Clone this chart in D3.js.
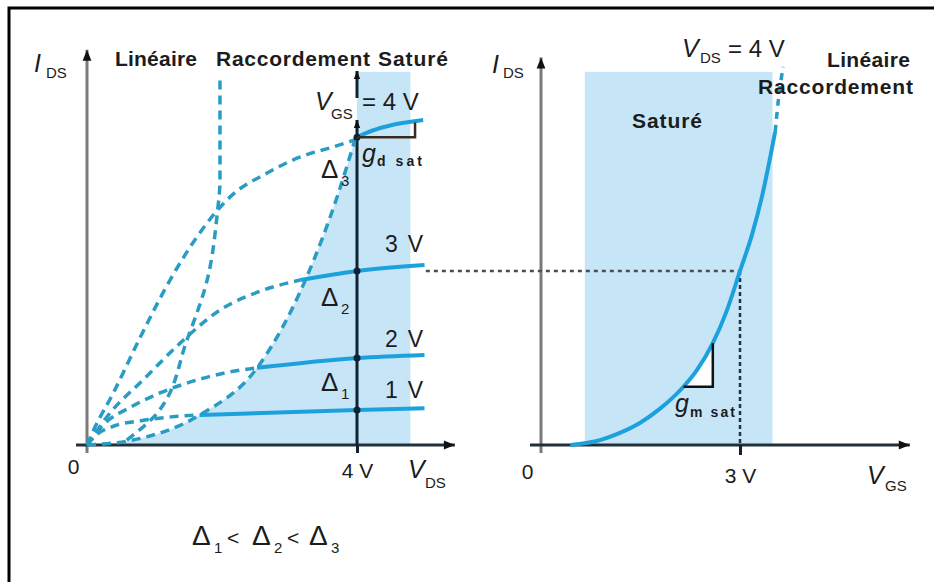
<!DOCTYPE html>
<html>
<head>
<meta charset="utf-8">
<script src="https://cdn.jsdelivr.net/npm/d3@7"></script>
<style>
  body { margin: 0; background: #fff; }
  svg { display: block; }
  text { font-family: "Liberation Sans", Arial, sans-serif; fill: #1c1c1c; }
</style>
</head>
<body>
<svg id="chart" width="934" height="582"></svg>
<script>
// ---- Output characteristics I_DS(V_DS), one curve per V_GS ----
const vgsLabels = ["1 V", "2 V", "3 V"];

// ohmic (linear) part, dashed
const vdsLin1 = [0, 0.15, 0.4, 0.8, 1.25, 1.67];
const idsLin1 = [0, 0.28, 0.5, 0.64, 0.74, 0.79];
const vdsLin2 = [0, 0.25, 0.65, 1.08, 1.5, 2.05, 2.52];
const idsLin2 = [0, 0.55, 1.0, 1.37, 1.64, 1.9, 2.03];
const vdsLin3 = [0, 0.34, 0.83, 1.38, 1.97, 2.57, 3.16];
const idsLin3 = [0, 0.84, 1.71, 2.68, 3.55, 4.05, 4.34];
const vdsLin4 = [0, 0.1, 0.39, 0.79, 1.23, 1.67, 2.12, 2.67, 3.16, 3.64, 3.97];
const idsLin4 = [0, 0.4, 1.37, 2.84, 4.34, 5.58, 6.53, 7.16, 7.58, 7.84, 8.03];

// saturated part, solid
const vdsSat1 = [1.67, 4, 5.0];
const idsSat1 = [0.79, 0.92, 0.97];
const vdsSat2 = [2.52, 4, 5.0];
const idsSat2 = [2.03, 2.29, 2.37];
const vdsSat3 = [3.16, 4, 5.0];
const idsSat3 = [4.34, 4.58, 4.74];
const vdsSat4 = [3.97, 4, 4.98];
const idsSat4 = [8.03, 8.1, 8.55];

// boundary between linear and saturated regions
const vdsLocus = [0, 0.68, 1.67, 2.52, 3.25, 3.7, 3.97];
const idsLocus = [0, 0.13, 0.79, 2.03, 4.4, 6.5, 8.03];

// "Raccordement" boundary
const vdsJoin = [0.59, 1.04, 1.48, 1.78, 1.93, 1.97, 1.97];
const idsJoin = [0.13, 0.84, 2.76, 4.34, 6.1, 6.97, 9.6];

// ---- Transfer characteristic I_DS(V_GS) at V_DS = 4 V ----
const vgsTransfer = [0.44, 0.89, 1.19, 1.49, 1.79, 2.13, 2.35, 2.59, 2.8, 3.0, 3.18, 3.33, 3.53];
const idsTransfer = [0, 0.13, 0.32, 0.58, 0.95, 1.5, 1.97, 2.68, 3.53, 4.58, 5.53, 6.53, 8.24];
const vgsTransferTop = [3.53, 3.58, 3.65];
const idsTransferTop = [8.24, 9.1, 9.95];

// operating point used for the projection between the two graphs
const vdsOp = 4, vgsOp = 3, idsOp = 4.58;

// ---- scales ----
const xL = d3.scaleLinear().domain([0, 4]).range([87, 357]);
const xR = d3.scaleLinear().domain([0, 3]).range([541, 740]);
const y = d3.scaleLinear().domain([0, 10]).range([445, 65]);

const C_FILL = "#c6e6f7", C_SOLID = "#1ca1dd", C_DASH = "#2a9cc4", C_DARK = "#0f2233";

const svg = d3.select("#chart");
const defs = svg.append("defs");
defs.append("marker").attr("id", "arrow")
  .attr("viewBox", "0 0 10 10").attr("refX", 10).attr("refY", 5)
  .attr("markerUnits", "userSpaceOnUse").attr("markerWidth", 16).attr("markerHeight", 11)
  .attr("orient", "auto")
  .append("path").attr("d", "M0,1 L10,5 L0,9 Z").attr("fill", "#111");
defs.append("marker").attr("id", "arrowSmall")
  .attr("viewBox", "0 0 10 10").attr("refX", 10).attr("refY", 5)
  .attr("markerUnits", "userSpaceOnUse").attr("markerWidth", 11).attr("markerHeight", 8)
  .attr("orient", "auto")
  .append("path").attr("d", "M0,1 L10,5 L0,9 Z").attr("fill", "#111");

const zip = (xs, ys) => xs.map((v, i) => [v, ys[i]]);
const lineL = d3.line().x(d => xL(d[0])).y(d => y(d[1])).curve(d3.curveMonotoneX);
const lineLy = d3.line().x(d => xL(d[0])).y(d => y(d[1])).curve(d3.curveMonotoneY);
const lineR = d3.line().x(d => xR(d[0])).y(d => y(d[1])).curve(d3.curveMonotoneX);

// frame
svg.append("path").attr("d", "M9,582 L9,8 L934,8")
  .attr("fill", "none").attr("stroke", "#000").attr("stroke-width", 3);

// ---- shaded saturation regions ----
const locusPath = lineL(zip(vdsLocus, idsLocus));
svg.append("path")
  .attr("d", locusPath + `L${xL(4)},${y(8.1)}L${xL(4)},${y(0)}Z`)
  .attr("fill", C_FILL);
svg.append("rect")
  .attr("x", xL(4)).attr("width", xL(4.79) - xL(4))
  .attr("y", y(9.82)).attr("height", y(0) - y(9.82))
  .attr("fill", C_FILL);
svg.append("rect")
  .attr("x", xR(0.66)).attr("width", xR(3.49) - xR(0.66))
  .attr("y", y(9.82)).attr("height", y(0) - y(9.82))
  .attr("fill", C_FILL);

// ---- axes ----
// vertical axes (grey) with arrow heads
svg.append("line").attr("x1", xL(0)).attr("x2", xL(0)).attr("y1", y(0) + 8).attr("y2", y(10.4))
  .attr("stroke", "#7a7a7a").attr("stroke-width", 3).attr("marker-end", "url(#arrow)");
svg.append("line").attr("x1", xR(0)).attr("x2", xR(0)).attr("y1", y(0) + 8).attr("y2", y(10.2))
  .attr("stroke", "#7a7a7a").attr("stroke-width", 3).attr("marker-end", "url(#arrow)");
// horizontal axes (dark) with arrow heads
svg.append("line").attr("x1", xL(0) - 11).attr("x2", xL(5.45)).attr("y1", y(0)).attr("y2", y(0))
  .attr("stroke", "#22303a").attr("stroke-width", 3).attr("marker-end", "url(#arrow)");
svg.append("line").attr("x1", xR(0) - 11).attr("x2", xR(5.56)).attr("y1", y(0)).attr("y2", y(0))
  .attr("stroke", "#22303a").attr("stroke-width", 3).attr("marker-end", "url(#arrow)");

function styleAxis(g, labelY) {
  g.select(".domain").remove();
  g.selectAll(".tick line").attr("stroke", C_DARK).attr("stroke-width", 3);
  g.selectAll(".tick text").attr("font-size", 21).attr("fill", "#1c1c1c")
    .attr("font-family", "Liberation Sans, Arial, sans-serif")
    .attr("dy", null).attr("y", labelY);
  g.selectAll(".tick").filter(d => d === 0).select("line").remove();
  g.selectAll(".tick").filter(d => d === 0).select("text").attr("dx", -14).attr("y", labelY - 4);
}
const axL = svg.append("g").attr("transform", `translate(0,${y(0)})`)
  .call(d3.axisBottom(xL).tickValues([0, 4]).tickSize(8).tickFormat(d => d === 0 ? "0" : d + " V"));
styleAxis(axL, 33);
const axR = svg.append("g").attr("transform", `translate(0,${y(0)})`)
  .call(d3.axisBottom(xR).tickValues([0, 3]).tickSize(10).tickFormat(d => d === 0 ? "0" : d + " V"));
styleAxis(axR, 38);

// ---- projection of the operating point ----
svg.append("path")
  .attr("d", `M${xL(5.02)},${y(idsOp)}L${xR(vgsOp)},${y(idsOp)}`)
  .attr("fill", "none").attr("stroke", "#4a4f55").attr("stroke-width", 2.5).attr("stroke-dasharray", "4,4");
svg.append("path")
  .attr("d", `M${xR(vgsOp)},${y(idsOp)}L${xR(vgsOp)},${y(0)}`)
  .attr("fill", "none").attr("stroke", "#1d3344").attr("stroke-width", 2.5).attr("stroke-dasharray", "4,3");

// V_DS = 4 V marker on the output characteristics
svg.append("line").attr("x1", xL(vdsOp)).attr("x2", xL(vdsOp)).attr("y1", y(0)).attr("y2", y(8.55))
  .attr("stroke", C_DARK).attr("stroke-width", 3).attr("marker-end", "url(#arrowSmall)");
svg.append("line").attr("x1", xL(vdsOp)).attr("x2", xL(vdsOp)).attr("y1", 98).attr("y2", 71)
  .attr("stroke", C_DARK).attr("stroke-width", 3).attr("marker-end", "url(#arrowSmall)");

// ---- curves ----
const linSets = [[vdsLin1, idsLin1], [vdsLin2, idsLin2], [vdsLin3, idsLin3], [vdsLin4, idsLin4]];
const satSets = [[vdsSat1, idsSat1], [vdsSat2, idsSat2], [vdsSat3, idsSat3], [vdsSat4, idsSat4]];

const dashStyle = sel => sel.attr("fill", "none").attr("stroke", C_DASH)
  .attr("stroke-width", 3.5).attr("stroke-dasharray", "9,6");

svg.append("path").attr("d", locusPath).call(dashStyle);
svg.append("path").attr("d", lineLy(zip(vdsJoin, idsJoin))).call(dashStyle);
linSets.forEach(([vx, iy]) => svg.append("path").attr("d", lineL(zip(vx, iy))).call(dashStyle));
satSets.forEach(([vx, iy]) => svg.append("path").attr("d", lineL(zip(vx, iy)))
  .attr("fill", "none").attr("stroke", C_SOLID).attr("stroke-width", 4));

// intersections with V_DS = 4 V
svg.selectAll("circle.op").data(satSets).join("circle").attr("class", "op")
  .attr("cx", xL(vdsOp)).attr("cy", d => y(d[1][1])).attr("r", 3.5).attr("fill", C_DARK);

// output conductance triangle
svg.append("path")
  .attr("d", `M${xL(4)},${y(8.1)}L${xL(4.86)},${y(8.1)}L${xL(4.86)},${y(8.49)}`)
  .attr("fill", "none").attr("stroke", "#3b2a22").attr("stroke-width", 2.5);

// transfer characteristic
const gmTri = [[2.15, 1.53], [2.59, 1.53], [2.59, 2.68]];
svg.append("path")
  .attr("d", "M" + gmTri.map(d => `${xR(d[0])},${y(d[1])}`).join("L") + "Z")
  .attr("fill", "#fff").attr("stroke", "none");
svg.append("path").attr("d", lineR(zip(vgsTransfer, idsTransfer)))
  .attr("fill", "none").attr("stroke", C_SOLID).attr("stroke-width", 4);
svg.append("path").attr("d", lineR(zip(vgsTransferTop, idsTransferTop)))
  .attr("fill", "none").attr("stroke", C_DASH).attr("stroke-width", 3.5).attr("stroke-dasharray", "7,6");
// transconductance triangle
svg.append("path")
  .attr("d", "M" + gmTri.map(d => `${xR(d[0])},${y(d[1])}`).join("L"))
  .attr("fill", "none").attr("stroke", "#111").attr("stroke-width", 2.5);

// ---- texts ----
function txt(x, yb, s, o = {}) {
  const t = svg.append("text").attr("x", x).attr("y", yb).text(s)
    .attr("font-size", o.size || 20);
  if (o.italic) t.attr("font-style", "italic");
  if (o.bold) t.attr("font-weight", "bold");
  if (o.anchor) t.attr("text-anchor", o.anchor);
  if (o.len) t.attr("textLength", o.len).attr("lengthAdjust", "spacing");
  return t;
}

// left graph
txt(34, 72, "I", { size: 25, italic: true });
txt(46, 78, "DS", { size: 15 });
txt(115, 66, "Linéaire", { size: 21, bold: true, len: 82 });
txt(216, 66, "Raccordement", { size: 21, bold: true, len: 154 });
txt(378, 66, "Saturé", { size: 21, bold: true, len: 70 });
txt(315, 110, "V", { size: 25, italic: true });
txt(331, 119, "GS", { size: 15 });
txt(362, 110, "= 4 V", { size: 24 });
txt(362, 162, "g", { size: 25, italic: true });
txt(377, 166, "d sat", { size: 14, bold: true, len: 45 });
[[178, "3"], [306, "2"], [391, "1"]].forEach(([yb, n]) => {
  txt(321, yb, "Δ", { size: 26 });
  txt(341, yb + 8, n, { size: 15 });
});
[[252, 2], [347, 1], [398, 0]].forEach(([yb, i]) => txt(385, yb, vgsLabels[i], { size: 23, len: 38 }));
txt(408, 478, "V", { size: 25, italic: true });
txt(425, 488, "DS", { size: 15 });

// Δ1 < Δ2 < Δ3
[[192, "1"], [252, "2"], [309, "3"]].forEach(([x, n], i) => {
  txt(x, 545, "Δ", { size: 28 });
  txt(x + 22, 553, n, { size: 15 });
  if (i < 2) txt(x + 35, 545, "<", { size: 21 });
});

// right graph
txt(492, 73, "I", { size: 25, italic: true });
txt(503, 78, "DS", { size: 15 });
txt(682, 57, "V", { size: 25, italic: true });
txt(700, 63, "DS", { size: 15 });
txt(728, 57, "= 4 V", { size: 24 });
txt(910, 67, "Linéaire", { size: 21, bold: true, anchor: "end", len: 83 });
txt(913, 94, "Raccordement", { size: 21, bold: true, anchor: "end", len: 155 });
txt(632, 128, "Saturé", { size: 21, bold: true, len: 70 });
txt(675, 412, "g", { size: 25, italic: true });
txt(690, 417, "m sat", { size: 14, bold: true, len: 45 });
txt(867, 484, "V", { size: 25, italic: true });
txt(885, 491, "GS", { size: 15 });
</script>
</body>
</html>
